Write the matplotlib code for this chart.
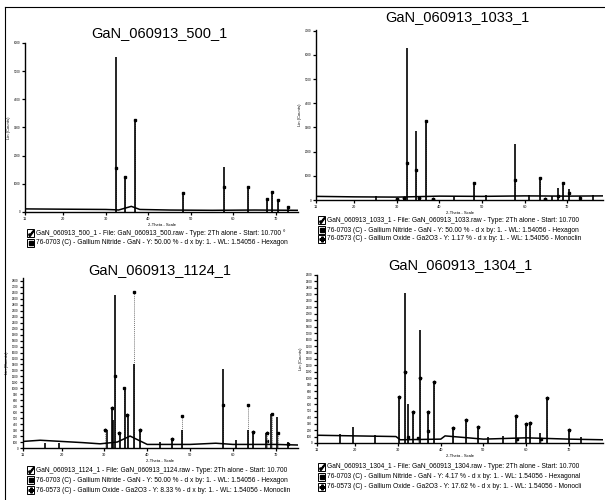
import matplotlib
matplotlib.use("Agg")
import matplotlib.pyplot as plt
from matplotlib.lines import Line2D
from matplotlib.patches import Rectangle

plt.rcParams['font.family'] = ['Liberation Sans', 'DejaVu Sans']

W, H = 605, 500

# ---------------- data ----------------
titles = ["GaN_060913_500_1", "GaN_060913_1033_1", "GaN_060913_1124_1", "GaN_060913_1304_1"]

# measured peaks (2-theta, counts)
tl_pk_x = [32.4, 34.6, 36.9, 48.1, 57.8, 63.5, 67.9, 69.1, 70.5, 72.9]
tl_pk_y = [5510, 1250, 3200, 690, 1610, 900, 470, 720, 430, 190]
tl_base_x = [11, 20, 30, 32.0, 33.0, 36.0, 38.0, 45, 55, 65, 75.2]
tl_base_y = [110, 100, 90, 80, 70, 200, 90, 70, 60, 70, 60]
tl_gan_x = [32.4, 34.6, 36.9, 48.1, 57.8, 63.5, 67.9, 69.1, 70.5, 72.9]
tl_gan_y = [1560, 1250, 3270, 690, 900, 900, 470, 720, 430, 190]
tl_gao_x, tl_gao_y = [], []

tr_pk_x = [25.0, 32.4, 34.6, 36.9, 43.5, 48.1, 51.0, 57.8, 61.0, 63.5, 66.5, 67.9, 69.1, 70.5, 72.9, 76.0]
tr_pk_y = [150, 6280, 2850, 3260, 180, 700, 200, 2310, 200, 910, 180, 500, 700, 450, 150, 200]
tr_base_x = [11, 20, 30, 40, 50, 60, 70, 78.4]
tr_base_y = [150, 130, 120, 160, 150, 170, 160, 170]
tr_gan_x = [32.4, 34.6, 36.9, 48.1, 57.8, 63.5, 67.9, 69.1, 70.5, 72.9]
tr_gan_y = [1530, 1240, 3260, 700, 830, 910, 150, 700, 300, 70]
tr_gao_x = [30.1, 31.7, 35.2, 38.4, 64.7]
tr_gao_y = [60, 80, 70, 50, 40]

bl_pk_x = [16.2, 19.3, 30.5, 31.7, 32.1, 32.4, 33.7, 34.7, 35.4, 37.0, 38.4, 43.1, 45.8, 48.2, 57.8, 60.7, 63.5, 64.7, 67.7, 69.0, 70.4, 72.8]
bl_pk_y = [90, 90, 300, 665, 470, 2565, 250, 1000, 550, 1400, 300, 105, 150, 300, 1325, 134, 300, 275, 250, 570, 525, 105]
bl_base_x = [11, 15, 20, 25, 29, 33, 36, 40, 50, 56, 60, 70, 75.2]
bl_base_y = [110, 130, 110, 90, 70, 100, 200, 60, 60, 80, 60, 60, 50]
bl_gan_x = [32.4, 34.6, 36.9, 48.1, 57.8, 63.5, 67.9, 69.1, 70.5, 72.9]
bl_gan_y = [1207, 1000, 2620, 540, 720, 720, 120, 570, 250, 60]
bl_gao_x = [30.1, 31.7, 33.5, 35.2, 38.4, 45.8, 64.7, 68.0]
bl_gao_y = [300, 665, 250, 550, 300, 150, 275, 250]

br_pk_x = [16.3, 19.4, 24.5, 30.2, 31.6, 32.4, 33.4, 35.2, 37.0, 38.3, 42.9, 45.9, 48.6, 51.0, 54.6, 57.6, 60.0, 61.0, 63.3, 64.9, 70.1, 72.9]
br_pk_y = [140, 250, 120, 718, 2320, 600, 485, 1750, 485, 950, 228, 356, 243, 98, 113, 423, 290, 305, 150, 693, 200, 98]
br_base_x = [11, 20, 29.5, 30.5, 40, 41, 50, 60, 70, 78]
br_base_y = [120, 110, 100, 50, 60, 110, 60, 80, 60, 50]
br_gan_x = [32.4, 34.6, 36.9, 57.8, 63.5]
br_gan_y = [100, 80, 180, 60, 60]
br_gao_x = [30.2, 31.6, 33.4, 35.2, 37.0, 38.3, 42.9, 45.9, 48.6, 57.6, 60.0, 61.0, 64.9, 70.1]
br_gao_y = [718, 1100, 485, 1000, 485, 950, 228, 356, 243, 423, 290, 305, 693, 200]

legends = [
    ["GaN_060913_500_1 - File: GaN_060913_500.raw - Type: 2Th alone - Start: 10.700 °",
     "76-0703 (C) - Gallium Nitride - GaN - Y: 50.00 % - d x by: 1. - WL: 1.54056 - Hexagon"],
    ["GaN_060913_1033_1 - File: GaN_060913_1033.raw - Type: 2Th alone - Start: 10.700",
     "76-0703 (C) - Gallium Nitride - GaN - Y: 50.00 % - d x by: 1. - WL: 1.54056 - Hexagon",
     "76-0573 (C) - Gallium Oxide - Ga2O3 - Y: 1.17 % - d x by: 1. - WL: 1.54056 - Monoclin"],
    ["GaN_060913_1124_1 - File: GaN_060913_1124.raw - Type: 2Th alone - Start: 10.700",
     "76-0703 (C) - Gallium Nitride - GaN - Y: 50.00 % - d x by: 1. - WL: 1.54056 - Hexagon",
     "76-0573 (C) - Gallium Oxide - Ga2O3 - Y: 8.33 % - d x by: 1. - WL: 1.54056 - Monoclin"],
    ["GaN_060913_1304_1 - File: GaN_060913_1304.raw - Type: 2Th alone - Start: 10.700",
     "76-0703 (C) - Gallium Nitride - GaN - Y: 4.17 % - d x by: 1. - WL: 1.54056 - Hexagonal",
     "76-0573 (C) - Gallium Oxide - Ga2O3 - Y: 17.62 % - d x by: 1. - WL: 1.54056 - Monocli"],
]

x_ticks = [11, 20, 30, 40, 50, 60, 70]

panels = [
    dict(rect=(25, 43, 298, 212), xlim=(11, 75.2), ylim=(0, 6000), ystep=1000,
         pk=(tl_pk_x, tl_pk_y), base=(tl_base_x, tl_base_y), gan=(tl_gan_x, tl_gan_y), gao=(tl_gao_x, tl_gao_y),
         title_xy=(159, 33), leg_x=27, leg_y=[233, 243]),
    dict(rect=(316, 30, 603, 200), xlim=(11, 78.4), ylim=(0, 7030), ystep=1000,
         pk=(tr_pk_x, tr_pk_y), base=(tr_base_x, tr_base_y), gan=(tr_gan_x, tr_gan_y), gao=(tr_gao_x, tr_gao_y),
         title_xy=(457, 17), leg_x=318, leg_y=[220, 230, 239]),
    dict(rect=(23, 278, 298, 448), xlim=(11, 75.2), ylim=(0, 2850), ystep=100,
         pk=(bl_pk_x, bl_pk_y), base=(bl_base_x, bl_base_y), gan=(bl_gan_x, bl_gan_y), gao=(bl_gao_x, bl_gao_y),
         title_xy=(160, 270), leg_x=27, leg_y=[470, 480, 490]),
    dict(rect=(317, 275, 603, 443), xlim=(11, 78.0), ylim=(0, 2600), ystep=100,
         pk=(br_pk_x, br_pk_y), base=(br_base_x, br_base_y), gan=(br_gan_x, br_gan_y), gao=(br_gao_x, br_gao_y),
         title_xy=(460, 265), leg_x=318, leg_y=[467, 477, 487]),
]

fig = plt.figure(figsize=(W / 100, H / 100), dpi=100)
fig.patch.set_facecolor("white")

def fx(px):
    return px / W

def fy(py):
    return 1 - py / H

for i, p in enumerate(panels):
    x0, y0, x1, y1 = p["rect"]
    ax = fig.add_axes([fx(x0), fy(y1), (x1 - x0) / W, (y1 - y0) / H])
    ax.set_facecolor("none")
    for s in ("top", "right"):
        ax.spines[s].set_visible(False)
    for s in ("left", "bottom"):
        ax.spines[s].set_linewidth(1.0)
    ax.set_xlim(*p["xlim"])
    ax.set_ylim(*p["ylim"])
    ax.set_xticks(x_ticks)
    ax.set_xticklabels([str(t) for t in x_ticks], fontsize=2.8)
    yt = list(range(0, int(p["ylim"][1]) + 1, p["ystep"]))
    ax.set_yticks(yt)
    ax.set_yticklabels([str(t) for t in yt], fontsize=2.2)
    ax.tick_params(axis="both", length=2, width=0.9, pad=1.5, direction="out")
    ax.set_xlabel("2-Theta - Scale", fontsize=3.0, labelpad=1.5)
    ax.set_ylabel("Lin (Counts)", fontsize=3.0, labelpad=1.5)

    # reference stick patterns
    gx, gy = p["gan"]
    if gx:
        ax.vlines(gx, 0, gy, colors="#777777", linewidth=0.7, linestyles=(0, (1, 1)))
        ax.plot(gx, gy, linestyle="none", marker="s", markersize=2.0, color="black")
    ox, oy = p["gao"]
    if ox:
        ax.vlines(ox, 0, oy, colors="#888888", linewidth=0.7, linestyles=(0, (1, 1)))
        ax.plot(ox, oy, linestyle="none", marker="*", markersize=2.5, color="black")

    # measured pattern
    px_, py_ = p["pk"]
    ax.vlines(px_, 0, py_, colors="black", linewidth=1.2)
    bx, by = p["base"]
    ax.plot(bx, by, color="black", linewidth=1.1)

    # title
    tx, ty = p["title_xy"]
    fig.text(fx(tx), fy(ty), titles[i], fontsize=10.5, ha="center", va="center", color="black")

    # legend lines with icons
    lx = p["leg_x"]
    for j, (line, ly) in enumerate(zip(legends[i], p["leg_y"])):
        fig.add_artist(Rectangle((fx(lx), fy(ly + 4)), 7 / W, 8 / H, transform=fig.transFigure,
                                 facecolor="white", edgecolor="black", linewidth=0.7))
        mk = ["$\\checkmark$", "s", "P"][j]
        fig.add_artist(Line2D([fx(lx + 3.5)], [fy(ly)], marker=mk, markersize=3.5 if j else 4,
                              color="black", transform=fig.transFigure))
        fig.text(fx(lx + 9), fy(ly), line, fontsize=4.8, ha="left", va="center", color="black")

# scan border
fig.add_artist(Line2D([fx(5), fx(605)], [fy(7), fy(7)], color="black", linewidth=0.8, transform=fig.transFigure))
fig.add_artist(Line2D([fx(5), fx(5)], [fy(7), fy(500)], color="black", linewidth=0.8, transform=fig.transFigure))

fig.savefig("out.png", dpi=100, facecolor="white")
